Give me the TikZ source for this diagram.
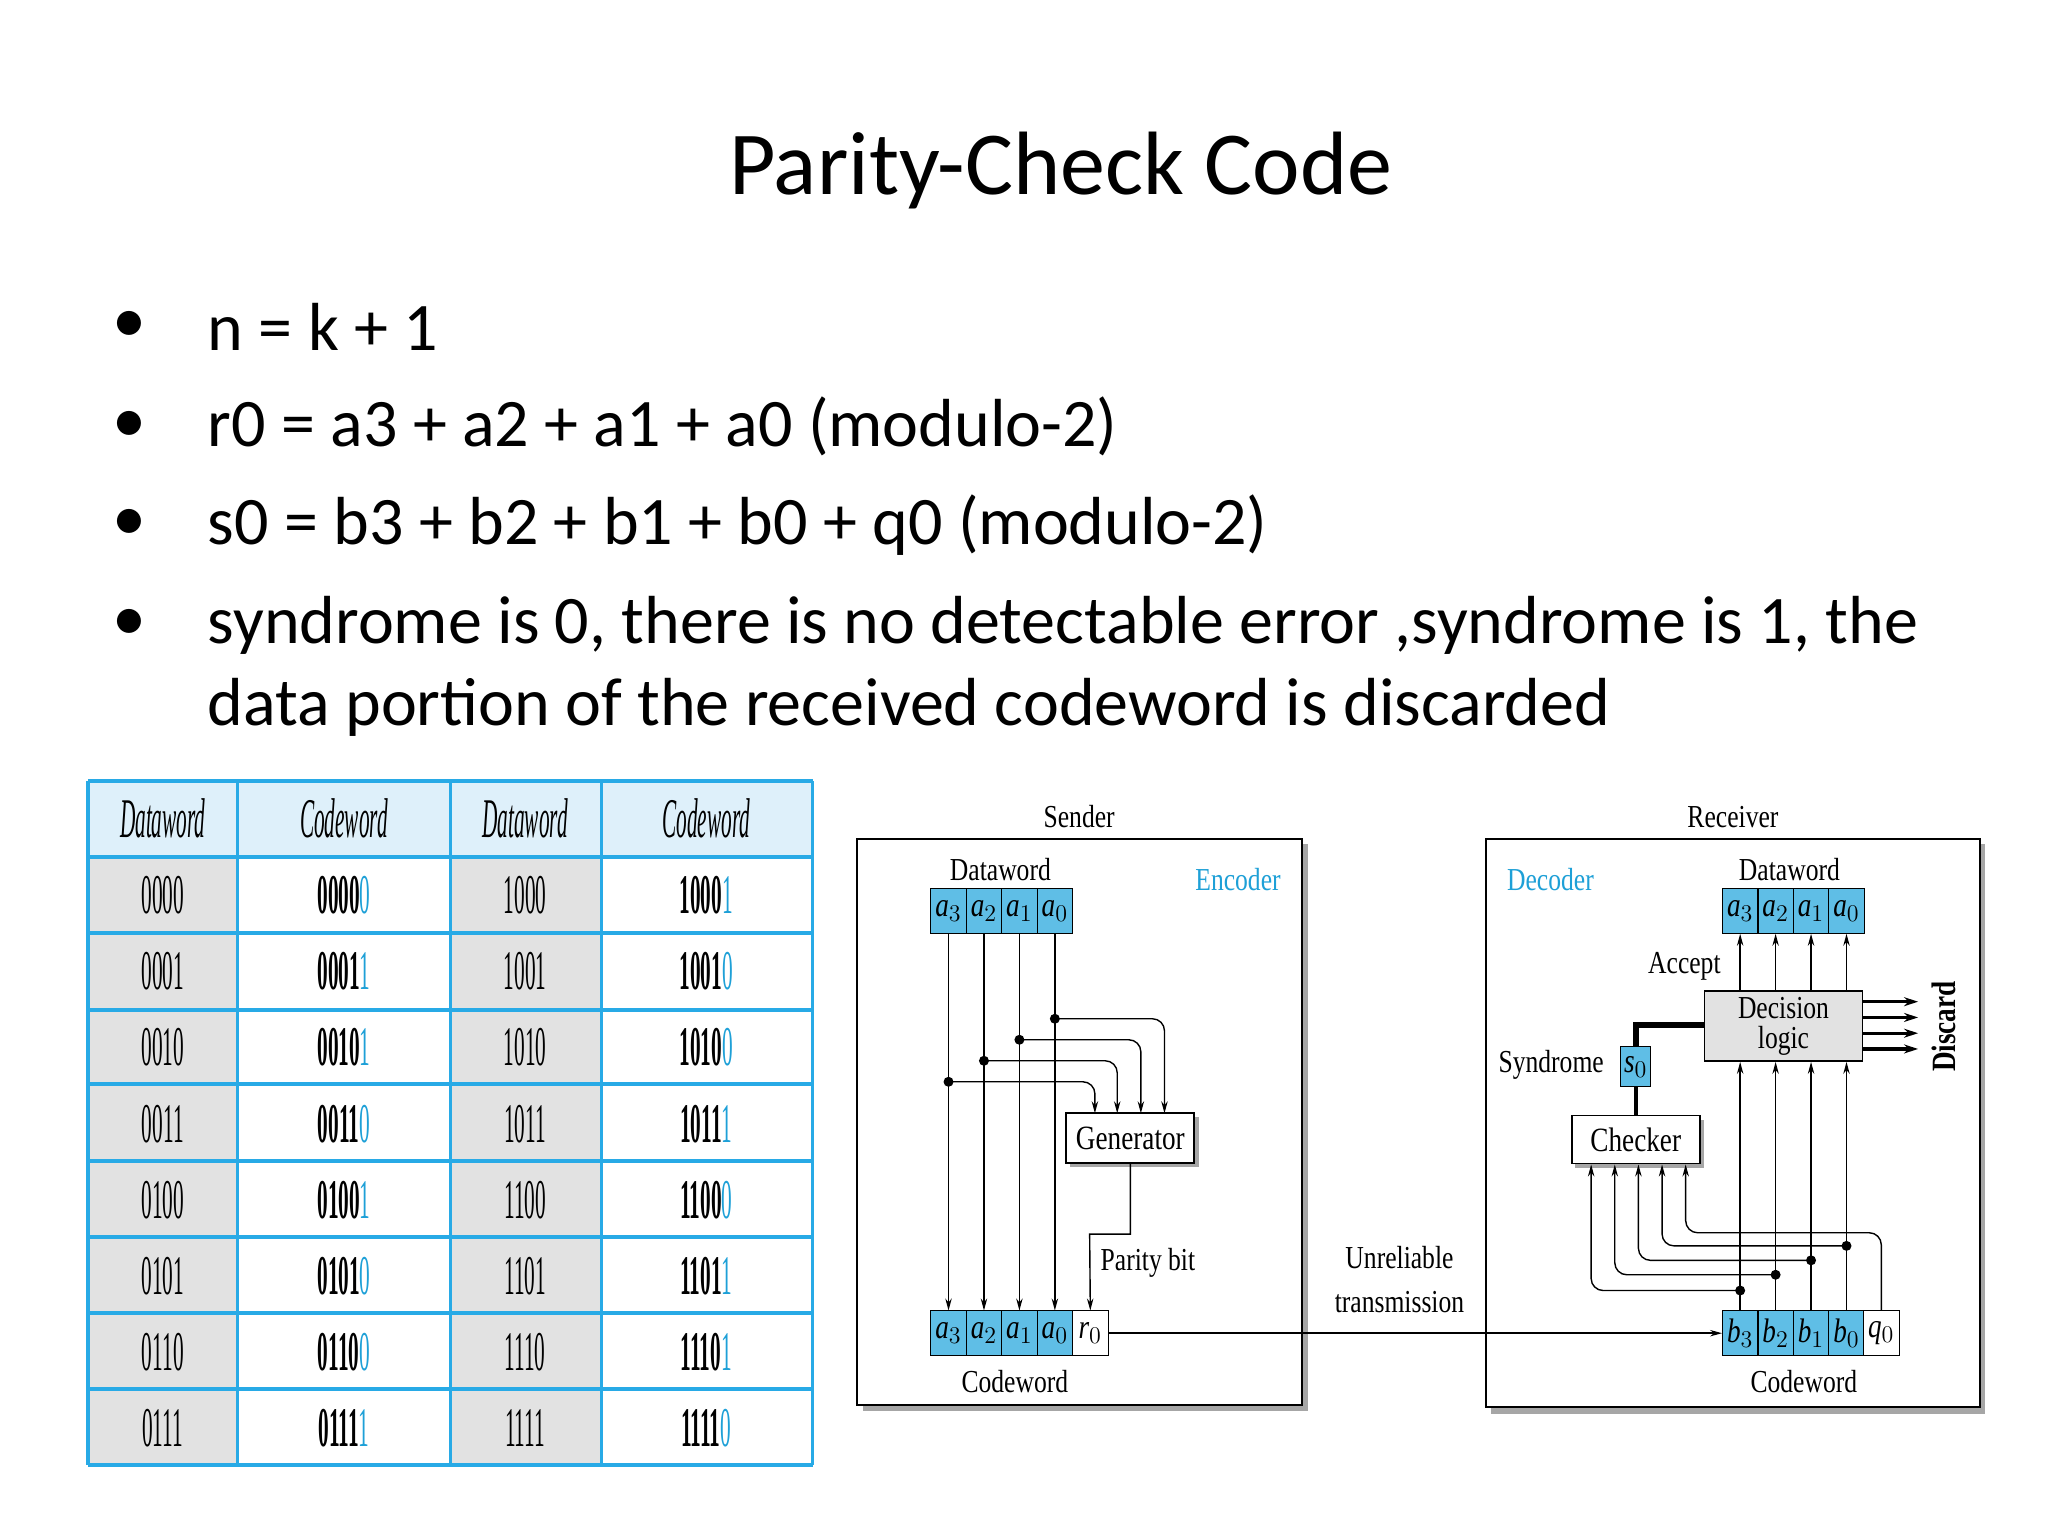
\documentclass[tikz,border=0pt]{standalone}
\usepackage{fontspec}
\setmainfont{Carlito}
\newfontfamily\tcond[FakeStretch=0.8]{Liberation Serif}
\newfontfamily\tabf[FakeStretch=0.38]{Liberation Serif}
\usetikzlibrary{arrows.meta}
\definecolor{cy}{RGB}{95,190,230}
\definecolor{cyt}{RGB}{30,160,215}
\definecolor{tl}{RGB}{40,170,230}
\definecolor{hd}{RGB}{222,240,250}
\definecolor{gr}{RGB}{226,226,226}
\begin{document}
\begin{tikzpicture}[x=0.6565pt,y=-0.6565pt,
  bul/.style={anchor=west,font=\fontsize{34}{40}\selectfont},
  dg/.style={font=\tcond\fontsize{16}{18}\selectfont},
  cell/.style={draw,fill=cy,minimum width=17.7pt,minimum height=22.3pt,inner sep=0pt,font=\tcond\fontsize{17}{18}\selectfont\itshape},
  wcell/.style={cell,fill=white},
  box/.style={draw,line width=0.9pt,fill=white},
  arr/.style={-{Stealth[length=6pt,width=3.2pt]},line width=0.7pt},
  dot/.style={circle,fill,inner sep=0pt,minimum size=5pt},
  tb/.style={font=\tabf\fontsize{28}{30}\selectfont}]
\useasboundingbox (0,0) rectangle (1560,1170);
% title and bullets
\node[font=\fontsize{45}{50}\selectfont] (title) at (808,130) {Parity-Check Code};
\foreach \y/\t [count=\i] in {249/{n = k + 1},325/{r0 = a3 + a2 + a1 + a0 (modulo-2)},400/{s0 = b3 + b2 + b1 + b0 + q0 (modulo-2)},476/{syndrome is 0, there is no detectable error ,syndrome is 1, the}}{
  \node[bul] (b\i) at (80,\y) {•};
  \node[bul] (t\i) at (153,\y) {\t};}
\node[bul] (t5) at (153,539) {data portion of the received codeword is discarded};
% table
\fill[hd] (67,595) rectangle (619,653);
\foreach \a/\b in {67/181,343/458}{\fill[gr] (\a,653) rectangle (\b,1116);}
\foreach \x in {67,181,343,458,619}{\draw[tl,line width=1.6pt] (\x,595) -- (\x,1116);}
\foreach \y in {595,653,711,769,826,884,942,1000,1058,1116}{\draw[tl,line width=2pt] (67,\y) -- (619,\y);}
\foreach \t/\x in {Dataword/124,Codeword/262,Dataword/400,Codeword/538}{\node[tb,font=\tabf\fontsize{28}{30}\selectfont\itshape] at (\x,623) {\t};}
\foreach \d/\c/\p/\e/\f/\q [count=\i] in {0000/0000/0/1000/1000/1,0001/0001/1/1001/1001/0,0010/0010/1/1010/1010/0,0011/0011/0/1011/1011/1,0100/0100/1/1100/1100/0,0101/0101/0/1101/1101/1,0110/0110/0/1110/1110/1,0111/0111/1/1111/1111/0}{
  \pgfmathsetmacro\yy{624+58*\i}
  \node[tb] at (124,\yy) {\d};
  \node[tb] at (262,\yy) {\textbf{\c}\textcolor{cyt}{\p}};
  \node[tb] at (400,\yy) {\e};
  \node[tb] at (538,\yy) {\textbf{\f}\textcolor{cyt}{\q}};}
% sender
\fill[gray!70] (657,643) rectangle (996,1075);
\draw[box] (653,639) rectangle (992,1070);
\node[dg] (snd) at (822,622) {Sender};
\node[dg,text=cyt] (enc) at (943,670) {Encoder};
\node[dg] (sdw) at (762,662) {Dataword};
\foreach \n/\s/\x in {a3/3/722.5,a2/2/749.5,a1/1/776.5,a0/0/803.5}{
  \node[cell] (s\n) at (\x,694) {a$_{\s}$};
  \node[cell] (c\n) at (\x,1015.5) {a$_{\s}$};}
\node[wcell] (cr0) at (830.5,1015.5) {r$_0$};
\node[dg] (cdw) at (773,1052) {Codeword};
\foreach \n in {a3,a2,a1,a0}{\draw[arr] (s\n) -- (c\n);}
\fill[gray!70] (815,851) rectangle (913,889);
\node[box,minimum width=64pt,minimum height=25pt,inner sep=0pt,font=\tcond\fontsize{17}{18}\selectfont] (gen) at (861,867) {Generator};
\foreach \n/\y/\x in {a0/776/887,a1/792/869,a2/808/851,a3/824/834}{
  \coordinate (tap\n) at (s\n |- 0,\y);
  \node[dot] at (tap\n) {};
  \draw[arr,rounded corners=6pt] (tap\n) -- (\x,\y) -- (\x,848);}
\coordinate (pk1) at (861,940);
\coordinate (pk2) at (830,940);
\draw[arr] (gen.south) -- (pk1) -- (pk2) -- (cr0.north);
\node[dg,anchor=west] (pb) at (833,962) {Parity bit};
% transmission
\node[align=center,font=\tcond\fontsize{16}{20}\selectfont] (unr) at (1066,975) {Unreliable\\[2pt]transmission};
% receiver
\fill[gray!70] (1136,643) rectangle (1512,1077);
\draw[box] (1132,639) rectangle (1508,1072);
\node[dg] (rcv) at (1320,622) {Receiver};
\node[dg,text=cyt] (dec) at (1181,670) {Decoder};
\node[dg] (rdw) at (1363,662) {Dataword};
\foreach \n/\s/\x in {3/3/1325.5,2/2/1352.5,1/1/1379.5,0/0/1406.5}{
  \node[cell] (ra\n) at (\x,694) {a$_{\s}$};
  \node[cell] (rb\n) at (\x,1015.5) {b$_{\s}$};}
\node[wcell] (rq0) at (1433,1015.5) {q$_0$};
\node[dg] (rcw) at (1374,1052) {Codeword};
\node[draw,line width=0.9pt,fill=gr,minimum width=79pt,minimum height=35pt,inner sep=0pt,align=center,font=\tcond\fontsize{16}{15}\selectfont] (dl) at (1358.5,781.5) {Decision\\logic};
\foreach \n in {3,2,1,0}{
  \draw[arr] (ra\n |- dl.north) -- (ra\n);
  \draw[arr] (rb\n) -- (rb\n |- dl.south);}
\node[dg,anchor=east] (acc) at (1316,736) {Accept};
\foreach \y in {763,775,787,799}{\draw[-{Stealth[length=7pt,width=4.5pt]},line width=1.6pt] (1419,\y) -- (1461,\y);}
\node[rotate=90,font=\tcond\fontsize{17}{18}\selectfont\bfseries] (disc) at (1481,782) {Discard};
\node[cell,minimum width=15pt,minimum height=20pt] (s0) at (1246,812.5) {s$_0$};
\node[dg,anchor=east] (syn) at (1227,811) {Syndrome};
\coordinate (sk) at (1246,781);
\draw[line width=3pt] (s0.north) -- (sk) -- (dl.west |- sk);
\fill[gray!70] (1200,853) rectangle (1298,890);
\node[box,minimum width=64pt,minimum height=24pt,inner sep=0pt,font=\tcond\fontsize{17}{18}\selectfont] (chk) at (1246,868) {Checker};
\draw[line width=2pt] (s0.south) -- (chk.north);
\foreach \n/\y/\x in {3/983/1212,2/971/1230,1/960/1248,0/949/1266}{
  \coordinate (rt\n) at (rb\n |- 0,\y);
  \node[dot] at (rt\n) {};
  \draw[arr,rounded corners=6pt] (rt\n) -- (\x,\y) -- (\x,887);}
\draw[arr,rounded corners=6pt] (rq0.north) -- (1433,939) -- (1284,939) -- (1284,887);
\draw[arr] (cr0.east) -- (rb3.west);
\end{tikzpicture}
\end{document}
